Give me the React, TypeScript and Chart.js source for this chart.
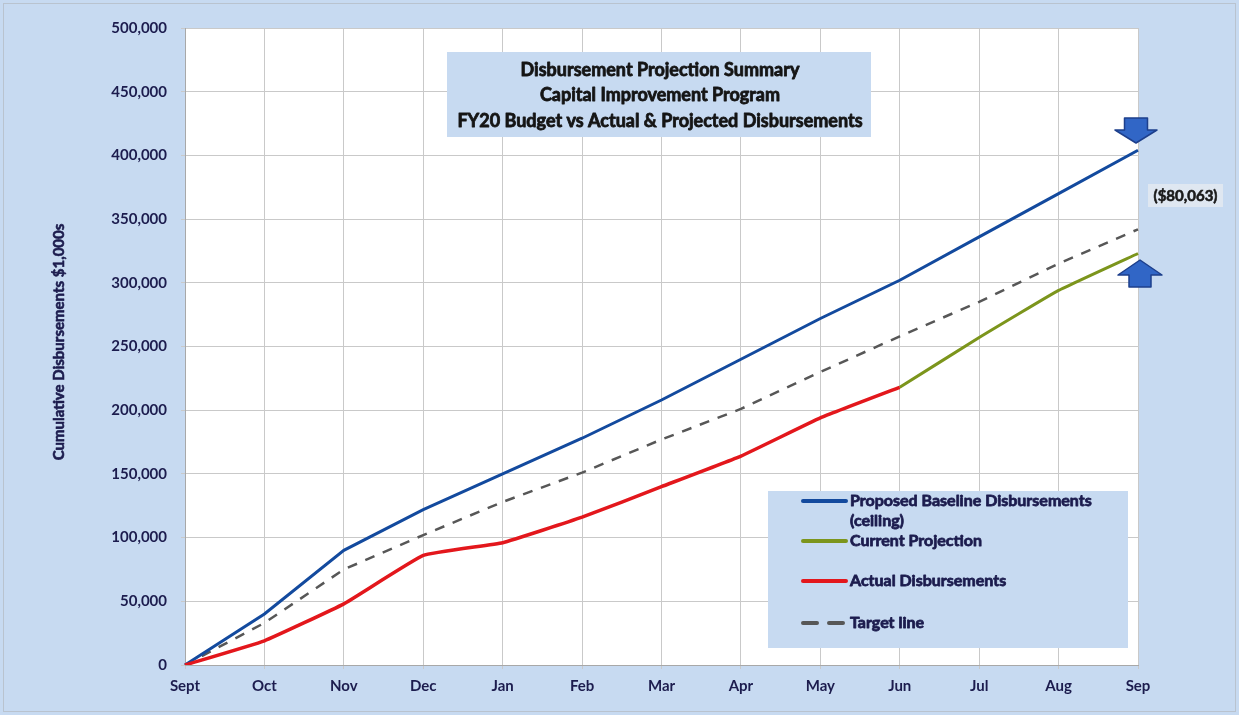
import React, { useEffect, useRef } from "react";
import { Chart, registerables } from "chart.js";

Chart.register(...registerables);

const months = ["Sept", "Oct", "Nov", "Dec", "Jan", "Feb", "Mar", "Apr", "May", "Jun", "Jul", "Aug", "Sep"];
const baseline = [0, 40000, 90000, 122000, 150000, 178000, 208000, 240000, 272000, 302000, 336000, 370000, 404000];
const actual = [0, 19000, 48000, 86000, 96000, 116000, 140000, 164000, 194000, 218000];
const projection = [null, null, null, null, null, null, null, null, null, 218000, 257000, 294000, 323000];
const target = [0, 33000, 75000, 102000, 128000, 151000, 177000, 201000, 230000, 258000, 285000, 315000, 342000];
const titleLines = [
  "Disbursement Projection Summary",
  "Capital Improvement Program",
  "FY20 Budget vs Actual & Projected Disbursements",
];
const yAxisTitle = "Cumulative Disbursements $1,000s";
const varianceLabel = "($80,063)";
const legendRows = [
  { label: ["Proposed Baseline Disbursements", "(ceiling)"], ds: 0 },
  { label: ["Current Projection"], ds: 1 },
  { label: ["Actual Disbursements"], ds: 2 },
  { label: ["Target line"], ds: 3 },
];

const FONT = "Lato, 'Open Sans', sans-serif";
const TEXT = "#1c1c4e";
const BG = "#c7daf1";

function heavyText(ctx: CanvasRenderingContext2D, t: string, x: number, y: number, color: string, w = 0.7) {
  ctx.fillStyle = color;
  ctx.strokeStyle = color;
  ctx.lineWidth = w;
  ctx.lineJoin = "round";
  ctx.fillText(t, x, y);
  ctx.strokeText(t, x, y);
}

function drawArrow(ctx: CanvasRenderingContext2D, cx: number, tipY: number, baseY: number, endY: number, headW: number, shaftW: number) {
  ctx.beginPath();
  ctx.moveTo(cx, tipY);
  ctx.lineTo(cx - headW / 2, baseY);
  ctx.lineTo(cx - shaftW / 2, baseY);
  ctx.lineTo(cx - shaftW / 2, endY);
  ctx.lineTo(cx + shaftW / 2, endY);
  ctx.lineTo(cx + shaftW / 2, baseY);
  ctx.lineTo(cx + headW / 2, baseY);
  ctx.closePath();
  ctx.fillStyle = "#3166c6";
  ctx.fill();
  ctx.strokeStyle = "#1d3f8c";
  ctx.lineWidth = 1.5;
  ctx.stroke();
}

const decorPlugin = {
  id: "decor",
  beforeDraw(chart: any) {
    const { ctx, chartArea: a, width, height } = chart;
    ctx.save();
    ctx.fillStyle = BG;
    ctx.fillRect(0, 0, width, height);
    ctx.strokeStyle = "#b9c3cf";
    ctx.lineWidth = 1;
    ctx.strokeRect(3.5, 3.5, width - 7, height - 7);
    ctx.fillStyle = "#ffffff";
    ctx.fillRect(a.left, a.top, a.right - a.left, a.bottom - a.top);
    ctx.restore();
  },
  afterDraw(chart: any) {
    const { ctx } = chart;
    ctx.save();
    // y axis title
    ctx.save();
    ctx.translate(59, 342);
    ctx.rotate(-Math.PI / 2);
    ctx.font = `bold 15px ${FONT}`;
    ctx.textAlign = "center";
    ctx.textBaseline = "middle";
    heavyText(ctx, yAxisTitle, 0, 0, TEXT, 0.6);
    ctx.restore();

    // title box
    ctx.fillStyle = BG;
    ctx.fillRect(447, 52, 424, 85);
    ctx.font = `bold 18px ${FONT}`;
    ctx.textAlign = "center";
    ctx.textBaseline = "middle";
    titleLines.forEach((t, i) => heavyText(ctx, t, 660, 70 + i * 25.5, "#151515", 0.8));

    // legend box
    ctx.fillStyle = BG;
    ctx.fillRect(768, 491, 360, 157);
    const rowY = [501, 541, 581, 623];
    legendRows.forEach((r, i) => {
      const ds = chart.data.datasets[r.ds];
      const y = rowY[i];
      ctx.beginPath();
      ctx.strokeStyle = ds.borderColor;
      ctx.lineWidth = 4;
      ctx.lineCap = "round";
      ctx.setLineDash(ds.borderDash ? [14, 12] : []);
      ctx.moveTo(803, y);
      ctx.lineTo(846, y);
      ctx.stroke();
      ctx.setLineDash([]);
      ctx.lineCap = "butt";
      ctx.font = `bold 16px ${FONT}`;
      ctx.textAlign = "left";
      ctx.textBaseline = "middle";
      r.label.forEach((l, j) => heavyText(ctx, l, 850, y + j * 20, TEXT, 0.8));
    });

    // variance label
    ctx.fillStyle = "#dfe7f1";
    ctx.fillRect(1148, 184, 75, 23);
    ctx.font = `bold 15px ${FONT}`;
    ctx.textAlign = "center";
    ctx.textBaseline = "middle";
    heavyText(ctx, varianceLabel, 1185.5, 196, "#1a1a1a", 0.6);

    // arrows
    drawArrow(ctx, 1136, 143, 130, 118, 42, 23);
    drawArrow(ctx, 1140, 260, 275, 287, 44, 22);
    ctx.restore();
  },
};

export default function App() {
  const ref = useRef<HTMLCanvasElement | null>(null);
  useEffect(() => {
    document.body.style.margin = "0";
    const canvas = ref.current!;
    const tickFont = { family: FONT, size: 15, weight: "bold" as const };
    const chart = new Chart(canvas, {
      type: "line",
      data: {
        labels: months,
        datasets: [
          { label: "Proposed Baseline Disbursements (ceiling)", data: baseline, borderColor: "#134a9e", borderWidth: 3, pointRadius: 0, tension: 0, order: 2 },
          { label: "Current Projection", data: projection, borderColor: "#7c951c", borderWidth: 3, pointRadius: 0, tension: 0.1, order: 3 },
          { label: "Actual Disbursements", data: actual, borderColor: "#e3171c", borderWidth: 3.5, pointRadius: 0, tension: 0.1, order: 1 },
          { label: "Target line", data: target, borderColor: "#575757", borderWidth: 2.5, borderDash: [10, 9], pointRadius: 0, tension: 0, order: 4 },
        ],
      },
      options: {
        responsive: false,
        animation: false,
        devicePixelRatio: 1,
        layout: { padding: { top: 28, right: 101, bottom: 0, left: 0 } },
        plugins: { legend: { display: false }, tooltip: { enabled: false }, title: { display: false } },
        scales: {
          x: {
            type: "category",
            offset: false,
            grid: { color: "#c9c9c9", lineWidth: 1, tickLength: 4 },
            border: { color: "#a8a8a8" },
            ticks: { color: TEXT, font: tickFont, padding: 8, maxRotation: 0, autoSkip: false },
            afterFit: (s: any) => { s.height = 50; },
          },
          y: {
            min: 0,
            max: 500000,
            grid: { color: "#c9c9c9", lineWidth: 1, tickLength: 4 },
            border: { color: "#a8a8a8" },
            ticks: {
              stepSize: 50000,
              color: TEXT,
              font: tickFont,
              padding: 14,
              callback: (v: any) => Number(v).toLocaleString("en-US"),
            },
            afterFit: (s: any) => { s.width = 185; },
          },
        },
      },
      plugins: [decorPlugin],
    });
    return () => chart.destroy();
  }, []);
  return (
    <div style={{ width: 1239, height: 715 }}>
      <canvas ref={ref} width={1239} height={715} style={{ display: "block" }} />
    </div>
  );
}
